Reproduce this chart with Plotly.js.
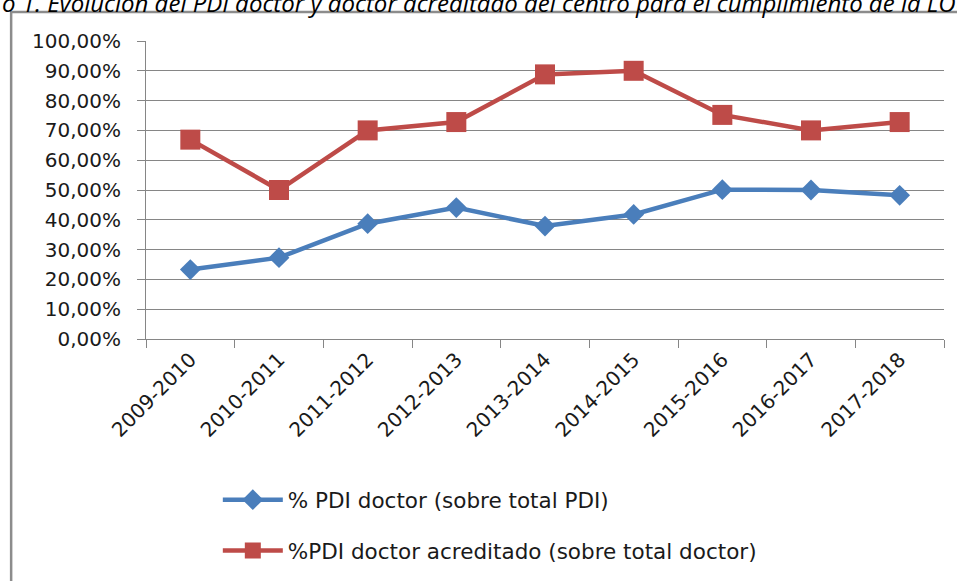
<!DOCTYPE html>
<html>
<head>
<meta charset="utf-8">
<script src="https://cdn.plot.ly/plotly-3.0.1.min.js"></script>
<style>
  html, body { margin: 0; padding: 0; background: #fff; }
  #chart { width: 957px; height: 581px; }
</style>
</head>
<body>
<div id="chart"></div>
<script>
const cursos = ['2009-2010', '2010-2011', '2011-2012', '2012-2013', '2013-2014',
    '2014-2015', '2015-2016', '2016-2017', '2017-2018'];
const pdiDoctor = [0.233, 0.273, 0.387, 0.441, 0.379, 0.418, 0.501, 0.500, 0.482];
const pdiAcreditado = [0.669, 0.500, 0.700, 0.728, 0.888, 0.900, 0.752, 0.700, 0.728];
const nombres = ['% PDI doctor (sobre total PDI)', '%PDI doctor acreditado (sobre total doctor)'];
const titulo = 'o 1. Evolución del PDI doctor y doctor acreditado del centro para el cumplimiento de la LOU';

const font = { family: 'DejaVu Sans, sans-serif', size: 20, color: '#1a1a1a' };
const legendFont = { family: 'DejaVu Sans, sans-serif', size: 21.5, color: '#1a1a1a' };

const traces = [
    {
        x: cursos, y: pdiDoctor, name: nombres[0], mode: 'lines+markers',
        line: { color: '#4a7ebb', width: 4.5 },
        marker: { symbol: 'diamond', size: 16, color: '#4a7ebb' },
        legend: 'legend'
    },
    {
        x: cursos, y: pdiAcreditado, name: nombres[1], mode: 'lines+markers',
        line: { color: '#be4b48', width: 4.5 },
        marker: { symbol: 'square', size: 20, color: '#be4b48' },
        legend: 'legend2'
    }
];

const layout = {
    width: 957,
    height: 581,
    margin: { l: 146, r: 13, t: 41, b: 241 },
    paper_bgcolor: '#ffffff',
    plot_bgcolor: '#ffffff',
    separators: ',.',
    font: font,
    showlegend: true,
    xaxis: {
        type: 'category',
        tickson: 'boundaries',
        ticks: 'outside',
        ticklen: 8,
        tickcolor: '#868686',
        tickangle: -45,
        showgrid: false,
        showline: true,
        linecolor: '#868686',
        linewidth: 1,
        tickfont: font,
        range: [-0.5, 8.5]
    },
    yaxis: {
        range: [0, 1],
        dtick: 0.1,
        tickformat: '.2%',
        ticks: 'outside',
        ticklen: 8,
        tickcolor: '#868686',
        showgrid: true,
        gridcolor: '#868686',
        gridwidth: 1,
        zeroline: false,
        showline: true,
        linecolor: '#868686',
        linewidth: 1,
        tickfont: font,
        ticklabelstandoff: 12
    },
    legend: {
        x: 0.09, y: -0.534, xanchor: 'left', yanchor: 'middle',
        itemwidth: 60,
        font: legendFont, bgcolor: 'rgba(0,0,0,0)'
    },
    legend2: {
        x: 0.09, y: -0.704, xanchor: 'left', yanchor: 'middle',
        itemwidth: 60,
        font: legendFont, bgcolor: 'rgba(0,0,0,0)'
    },
    shapes: [
        {
            type: 'path', xref: 'paper', yref: 'paper',
            path: 'M -0.169 -1.0 L -0.169 1.097 L 1.05 1.097',
            line: { color: '#8c8c8c', width: 2.5 }
        }
    ],
    annotations: [
        {
            text: titulo, xref: 'paper', yref: 'paper',
            x: -0.183, y: 1.1304, xanchor: 'left', yanchor: 'middle',
            showarrow: false,
            font: { family: 'Open Sans, sans-serif', size: 24, color: '#000', style: 'italic' }
        }
    ]
};

Plotly.newPlot('chart', traces, layout, { displayModeBar: false, staticPlot: true });
</script>
</body>
</html>
